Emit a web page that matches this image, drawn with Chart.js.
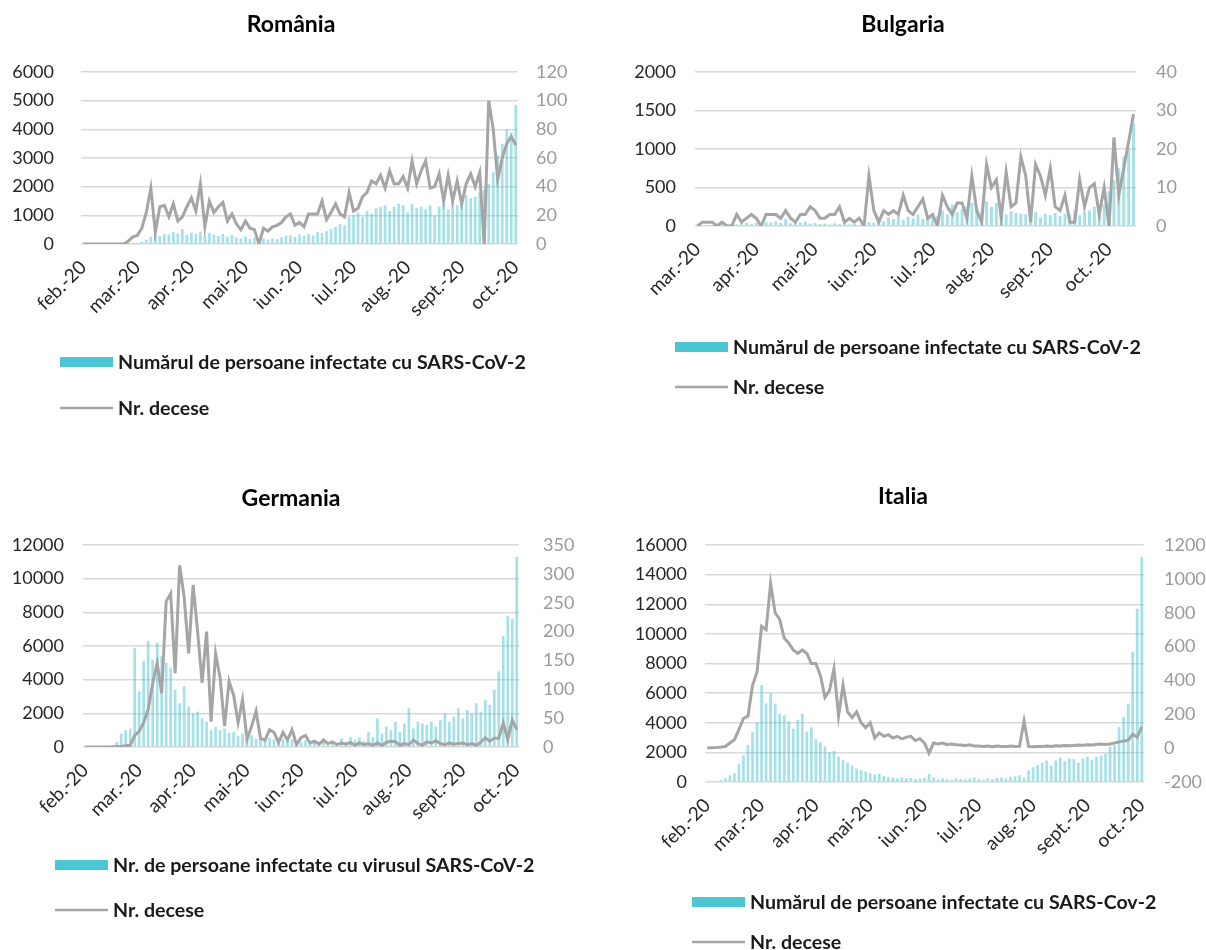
<!DOCTYPE html>
<html>
<head>
<meta charset="utf-8">
<script src="https://cdn.jsdelivr.net/npm/chart.js@4"></script>
<style>
  html, body { margin: 0; padding: 0; background: #fff; }
  body { width: 1206px; height: 950px; position: relative; overflow: hidden; }
  .panel { position: absolute; }
</style>
</head>
<body>
<div class="panel" style="left:0;top:0;width:600px;height:430px"><canvas id="ro"></canvas></div>
<div class="panel" style="left:600px;top:0;width:606px;height:430px"><canvas id="bg"></canvas></div>
<div class="panel" style="left:0;top:470px;width:600px;height:480px"><canvas id="de"></canvas></div>
<div class="panel" style="left:600px;top:470px;width:606px;height:480px"><canvas id="it"></canvas></div>
<script>
// month tick labels (one every 12 points, roughly 2.5 days per point)
const monthsFeb = ["feb.-20", "mar.-20", "apr.-20", "mai-20", "iun.-20", "iul.-20", "aug.-20", "sept.-20", "oct.-20"];
const monthsMar = ["mar.-20", "apr.-20", "mai-20", "iun.-20", "iul.-20", "aug.-20", "sept.-20", "oct.-20"];

// România
const roCases = [0,0,0,0,0,0,0,0,0,0,
  3,10,40,80,150,250,300,280,350,330,
  420,370,520,320,400,360,430,300,380,330,
  280,350,250,300,230,200,260,180,220,150,
  190,160,200,170,240,280,300,250,330,290,
  350,300,420,380,450,520,600,700,650,950,
  1000,1100,950,1150,1050,1250,1300,1350,1150,1300,
  1400,1350,1100,1400,1250,1300,1200,1350,1000,1300,
  1400,1200,1500,1350,1450,1700,1600,1650,1800,1900,
  2100,2500,3100,3500,4000,3900,4850];
const roDeaths = [0,0,0,0,0,0,0,0,0,0,
  2,5,6,11,22,39,8,26,27,19,
  28,16,19,26,32,23,42,12,30,22,
  26,29,16,21,14,10,16,11,10,0,
  11,9,12,13,15,19,21,13,15,12,
  21,21,21,30,17,22,28,21,19,36,
  23,25,33,36,44,42,48,39,51,42,
  42,47,39,58,42,51,58,39,40,49,
  30,48,30,44,28,42,49,40,50,0,
  100,80,45,60,70,75,69];

// Bulgaria
const bgCases = [0,0,2,5,10,20,25,30,20,35,
  40,25,40,30,50,45,60,40,90,35,
  50,45,60,30,40,25,30,20,35,25,
  40,20,30,15,25,50,40,70,60,110,
  90,130,80,120,100,150,90,120,160,130,
  200,150,280,180,220,260,300,250,200,320,
  250,300,200,150,190,170,160,150,120,180,
  110,160,140,170,130,160,150,200,140,180,
  200,250,220,280,450,600,750,900,1000,1330];
const bgDeaths = [0,1,1,1,0,1,0,0,3,1,
  2,3,2,0,3,3,3,2,4,2,
  1,3,3,5,4,2,2,3,3,5,
  1,2,1,2,0,13,4,1,4,3,
  4,3,8,4,3,5,7,2,3,0,
  8,5,3,6,6,2,13,4,1,16,
  10,12,2,14,5,6,18,13,1,16,
  13,8,15,5,4,8,1,1,12,5,
  10,11,3,10,0,23,8,15,22,29];

// Germania
const deCases = [0,0,0,0,0,20,100,300,800,1000,
  1100,5900,3300,5100,6300,5200,6200,5400,5000,4700,
  3400,2600,3600,2400,2000,2100,1700,1500,1000,1200,
  1000,1100,850,900,650,800,550,700,500,600,
  450,550,450,350,500,400,450,300,300,400,
  300,400,250,450,300,350,250,500,300,600,
  400,550,350,900,600,1700,800,1200,1000,1500,
  900,1400,2300,1100,1500,1400,1300,1500,1200,1600,
  2000,1500,1800,2300,1700,2200,2000,2600,2100,2800,
  2500,3400,4500,6600,7800,7600,11300];
const deDeaths = [0,0,0,0,0,0,0,1,1,2,
  3,20,27,42,65,110,145,93,252,266,
  128,315,260,162,281,200,111,200,44,162,
  120,36,114,90,42,82,13,36,62,15,
  12,30,25,8,25,12,30,4,16,20,
  7,10,5,12,6,9,4,7,5,8,
  3,7,4,6,3,7,3,8,10,9,
  3,6,4,12,6,3,9,7,11,6,
  4,7,5,6,7,4,6,3,8,16,
  10,15,15,42,13,47,30];

// Italia
const itCases = [0,0,50,150,250,450,600,1200,1800,2500,
  3400,4000,6550,5300,6000,5300,4600,4500,4100,3600,
  4200,4600,3400,3700,2900,2700,2400,2000,2100,1700,
  1500,1300,1100,900,800,700,600,500,550,400,
  350,300,250,300,250,280,200,250,280,550,
  300,180,250,200,150,250,200,180,250,300,
  200,150,250,200,280,300,250,350,380,450,
  300,800,1000,1150,1300,1450,1100,1450,1650,1400,
  1600,1550,1300,1600,1700,1500,1700,1800,1900,2400,
  2500,3700,4400,5300,8800,11700,15200];
const itDeaths = [3,3,4,6,10,30,50,110,175,190,
  370,450,720,700,973,800,760,650,620,580,
  560,580,560,500,500,430,300,340,470,190,
  372,214,180,214,150,120,150,60,90,70,
  80,60,70,55,65,70,45,56,30,-30,
  30,25,30,20,25,20,18,15,20,12,
  12,10,12,9,12,10,9,12,10,11,
  160,10,8,10,9,12,10,14,12,15,
  14,16,18,17,20,18,22,24,22,25,
  30,37,42,46,82,65,125];

const BAR_COLOR = "#4BC6D2";
const BAR_FILL = "rgba(75, 198, 210, 0.5)";
const LINE_COLOR = "#A5A5A5";
const FONT = "Lato, 'Open Sans', sans-serif";

Chart.defaults.font.family = FONT;
Chart.defaults.font.size = 18;

function buildLabels(months, n) {
  const out = [];
  for (let i = 0; i < n; i++) {
    out.push(i % 12 === 0 ? (months[i / 12] || "") : "");
  }
  return out;
}

// draws the two legend rows under each chart
const legendRows = {
  id: "legendRows",
  afterDraw(chart, args, opts) {
    const ctx = chart.ctx;
    const ds = chart.data.datasets;
    ctx.save();
    ctx.font = "bold 19.6px " + FONT;
    ctx.textBaseline = "middle";
    ctx.fillStyle = BAR_COLOR;
    ctx.fillRect(opts.x, opts.y1 - 5, 53, 10);
    ctx.strokeStyle = LINE_COLOR;
    ctx.lineWidth = 2.5;
    ctx.beginPath();
    ctx.moveTo(opts.x, opts.y2);
    ctx.lineTo(opts.x + 53, opts.y2);
    ctx.stroke();
    ctx.fillStyle = "#1a1a1a";
    ctx.fillText(ds[0].label, opts.x + 58, opts.y1 + 1);
    ctx.fillText(ds[1].label, opts.x + 58, opts.y2 + 1);
    ctx.restore();
  }
};

const plainNumber = (v) => String(v);

function makeChart(id, c) {
  const W = c.width, H = c.height, a = c.area;
  const titleLine = 23 * 1.2;
  new Chart(document.getElementById(id), {
    type: "bar",
    data: {
      labels: buildLabels(c.months, c.cases.length),
      datasets: [
        {
          type: "bar",
          label: c.barLabel,
          data: c.cases,
          yAxisID: "y",
          backgroundColor: BAR_FILL,
          barPercentage: 0.6,
          categoryPercentage: 1,
          order: 1
        },
        {
          type: "line",
          label: "Nr. decese",
          data: c.deaths,
          yAxisID: "y1",
          borderColor: LINE_COLOR,
          borderWidth: 3,
          pointRadius: 0,
          tension: 0,
          order: 0
        }
      ]
    },
    options: {
      responsive: true,
      maintainAspectRatio: false,
      animation: false,
      layout: { padding: { left: 0, right: c.padRight, top: 0, bottom: 0 } },
      plugins: {
        legend: { display: false },
        tooltip: { enabled: false },
        title: {
          display: true,
          text: c.title,
          color: "#000",
          font: { size: 23, weight: "bold" },
          padding: { top: c.titleY - titleLine / 2, bottom: a.top - (c.titleY - titleLine / 2) - titleLine }
        },
        legendRows: c.legend
      },
      scales: {
        x: {
          grid: { display: false },
          border: { display: false },
          ticks: {
            autoSkip: false,
            minRotation: 45,
            maxRotation: 45,
            padding: 4,
            color: "#262626",
            font: { size: 19 }
          },
          afterFit(s) { s.height = H - a.bottom; s.paddingLeft = 0; s.paddingRight = 0; }
        },
        y: {
          position: "left",
          min: c.yMin, max: c.yMax,
          ticks: { stepSize: c.yStep, padding: c.leftPad, color: "#262626", callback: plainNumber },
          grid: { color: "#d9d9d9", lineWidth: 1.5, drawTicks: false },
          border: { display: false },
          afterFit(s) { s.width = a.left; }
        },
        y1: {
          position: "right",
          min: c.y1Min, max: c.y1Max,
          ticks: { stepSize: c.y1Step, padding: c.rightPad, color: "#9a9a9a", callback: plainNumber },
          grid: { display: false, drawTicks: false },
          border: { display: false },
          afterFit(s) { s.width = W - c.padRight - a.right; }
        }
      }
    },
    plugins: [legendRows]
  });
}

makeChart("ro", {
  width: 600, height: 430, padRight: 18,
  area: { left: 81, right: 518, top: 72, bottom: 244 },
  title: "România", titleY: 25,
  months: monthsFeb, cases: roCases, deaths: roDeaths,
  barLabel: "Numărul de persoane infectate cu SARS-CoV-2",
  yMin: 0, yMax: 6000, yStep: 1000, y1Min: 0, y1Max: 120, y1Step: 20,
  leftPad: 27, rightPad: 18,
  legend: { x: 60, y1: 362, y2: 408 }
});

makeChart("bg", {
  width: 606, height: 430, padRight: 0,
  area: { left: 95, right: 536, top: 72, bottom: 226 },
  title: "Bulgaria", titleY: 25,
  months: monthsMar, cases: bgCases, deaths: bgDeaths,
  barLabel: "Numărul de persoane infectate cu SARS-CoV-2",
  yMin: 0, yMax: 2000, yStep: 500, y1Min: 0, y1Max: 40, y1Step: 10,
  leftPad: 19, rightPad: 20,
  legend: { x: 75, y1: 347, y2: 387 }
});

makeChart("de", {
  width: 600, height: 480, padRight: 18,
  area: { left: 83, right: 519, top: 75, bottom: 277 },
  title: "Germania", titleY: 29,
  months: monthsFeb, cases: deCases, deaths: deDeaths,
  barLabel: "Nr. de persoane infectate cu virusul SARS-CoV-2",
  yMin: 0, yMax: 12000, yStep: 2000, y1Min: 0, y1Max: 350, y1Step: 50,
  leftPad: 19, rightPad: 24,
  legend: { x: 55, y1: 395, y2: 440 }
});

makeChart("it", {
  width: 606, height: 480, padRight: 0,
  area: { left: 105, right: 544, top: 75, bottom: 312 },
  title: "Italia", titleY: 27,
  months: monthsFeb, cases: itCases, deaths: itDeaths,
  barLabel: "Numărul de persoane infectate cu SARS-Cov-2",
  yMin: 0, yMax: 16000, yStep: 2000, y1Min: -200, y1Max: 1200, y1Step: 200,
  leftPad: 18, rightPad: 20,
  legend: { x: 92, y1: 432, y2: 472 }
});
</script>
</body>
</html>
